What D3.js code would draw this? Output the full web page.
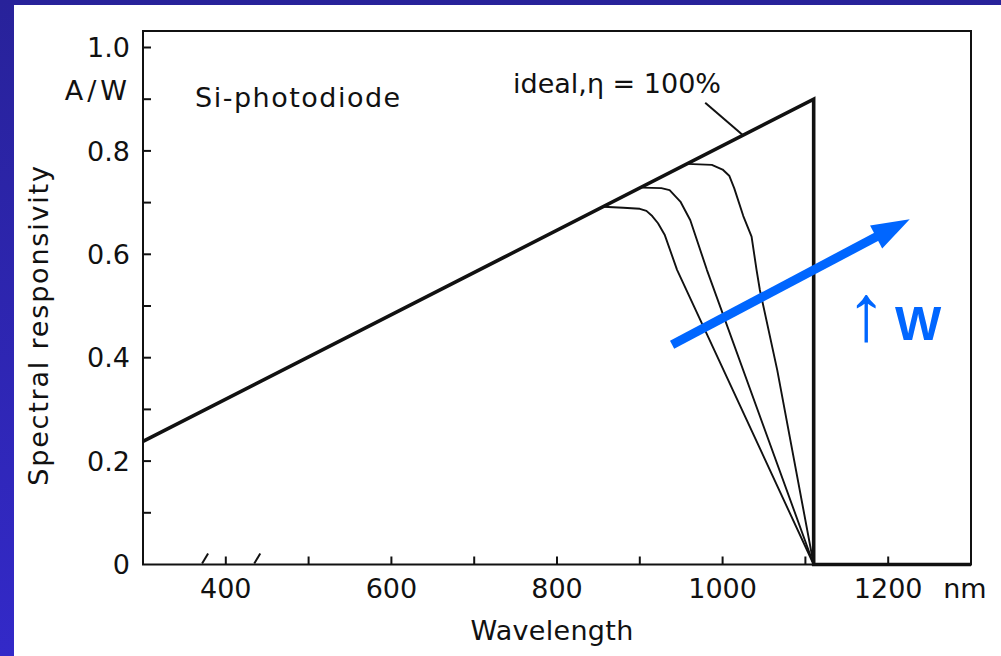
<!DOCTYPE html>
<html>
<head>
<meta charset="utf-8">
<script src="https://cdn.jsdelivr.net/npm/d3@7"></script>
<style>
  body { margin: 0; background: #fff; }
  svg { display: block; }
  text { font-family: "DejaVu Sans", sans-serif; fill: #111; }
</style>
</head>
<body>
<svg id="chart" width="1001" height="656"></svg>
<script>
// ---- data ----------------------------------------------------------
const xTickValues = [400, 500, 600, 700, 800, 900, 1000, 1100, 1200];
const xTickLabels = [400, 600, 800, 1000, 1200];
const yTickValues = [0.1, 0.2, 0.3, 0.4, 0.5, 0.6, 0.7, 0.8, 0.9, 1.0];
const yTickLabels = ["0", "0.2", "0.4", "0.6", "0.8", "1.0"];
const yTickLabelValues = [0, 0.2, 0.4, 0.6, 0.8, 1.0];

// ideal photodiode (quantum efficiency 100 %) with band-gap cut-off
const idealWavelength = [300, 1110, 1110, 1300];
const idealResponse   = [0.238, 0.900, 0, 0];

// real photodiodes, increasing width W
const curve1Wavelength = [856, 880, 900, 908, 915, 922, 930, 945, 1110];
const curve1Response   = [0.692, 0.690, 0.688, 0.684, 0.674, 0.660, 0.638, 0.570, 0];
const curve2Wavelength = [903, 926, 936, 949, 961, 981, 1110];
const curve2Response   = [0.729, 0.728, 0.724, 0.702, 0.666, 0.570, 0];
const curve3Wavelength = [957, 987, 1000, 1008, 1014, 1025, 1035, 1041, 1045, 1066, 1110];
const curve3Response   = [0.775, 0.773, 0.764, 0.752, 0.728, 0.674, 0.634, 0.570, 0.531, 0.376, 0];

// annotations
const leaderFrom = [979, 0.893];
const leaderTo   = [1025, 0.830];
const trendFrom  = [939, 0.425];
const trendTo    = [1226, 0.668];
const breakMarks = [375, 438];

// ---- layout --------------------------------------------------------
const svg = d3.select("#chart");
const W = 1001, H = 656;
const plot = { left: 143, right: 971, top: 31, bottom: 564.5 };
const ink = "#111";
const blue = "#0066ff";

const x = d3.scaleLinear().domain([300, 1300]).range([plot.left, plot.right]);
const y = d3.scaleLinear().domain([0, 1]).range([plot.bottom, 47.5]);

// slide frame
const defs = svg.append("defs");
const grad = defs.append("linearGradient").attr("id", "frameGrad")
  .attr("x1", 0).attr("y1", 0).attr("x2", 0).attr("y2", 1);
grad.append("stop").attr("offset", "0%").attr("stop-color", "#28229a");
grad.append("stop").attr("offset", "100%").attr("stop-color", "#3329c8");
svg.append("rect").attr("width", W).attr("height", H).attr("fill", "url(#frameGrad)");
svg.append("rect").attr("x", 14).attr("y", 5).attr("width", W - 14).attr("height", H - 5).attr("fill", "#fff");

// plot box
svg.append("rect")
  .attr("x", plot.left).attr("y", plot.top)
  .attr("width", plot.right - plot.left).attr("height", plot.bottom - plot.top)
  .attr("fill", "none").attr("stroke", ink).attr("stroke-width", 2);

// ticks (inward)
const gx = svg.append("g");
gx.selectAll("line").data(xTickValues).join("line")
  .attr("x1", d => x(d)).attr("x2", d => x(d))
  .attr("y1", plot.bottom).attr("y2", plot.bottom - 8)
  .attr("stroke", ink).attr("stroke-width", 2);
gx.selectAll("text").data(xTickLabels).join("text")
  .attr("x", d => x(d)).attr("y", plot.bottom + 33)
  .attr("text-anchor", "middle").attr("font-size", 27)
  .text(d => d);
svg.append("text").attr("x", x(1200) + 55).attr("y", plot.bottom + 33)
  .attr("font-size", 27).text("nm");

const gy = svg.append("g");
gy.selectAll("line").data(yTickValues).join("line")
  .attr("x1", plot.left).attr("x2", plot.left + 8)
  .attr("y1", d => y(d)).attr("y2", d => y(d))
  .attr("stroke", ink).attr("stroke-width", 2);
gy.selectAll("text").data(yTickLabelValues).join("text")
  .attr("x", 130).attr("y", d => y(d)).attr("dy", "0.36em")
  .attr("text-anchor", "end").attr("font-size", 27)
  .text((d, i) => yTickLabels[i]);
svg.append("text").attr("x", 131).attr("y", y(0.9) + 1)
  .attr("text-anchor", "end").attr("font-size", 27).attr("letter-spacing", 4)
  .text("A/W");

// small slashes on the wavelength axis
svg.append("g").selectAll("line").data(breakMarks).join("line")
  .attr("x1", d => x(d) - 3).attr("x2", d => x(d) + 3)
  .attr("y1", plot.bottom - 1).attr("y2", plot.bottom - 11)
  .attr("stroke", ink).attr("stroke-width", 2);

// axis titles
svg.append("text")
  .attr("transform", `translate(48,${(163 + 487) / 2}) rotate(-90)`)
  .attr("text-anchor", "middle").attr("font-size", 27).attr("letter-spacing", 1.8)
  .text("Spectral responsivity");
svg.append("text").attr("x", 552).attr("y", 640)
  .attr("text-anchor", "middle").attr("font-size", 27).attr("letter-spacing", 0.3)
  .text("Wavelength");

// ---- curves --------------------------------------------------------
const line = d3.line().x(d => x(d[0])).y(d => y(d[1]));

const realCurves = [
  d3.zip(curve1Wavelength, curve1Response),
  d3.zip(curve2Wavelength, curve2Response),
  d3.zip(curve3Wavelength, curve3Response)
];
svg.append("g").selectAll("path").data(realCurves).join("path")
  .attr("d", line).attr("fill", "none")
  .attr("stroke", ink).attr("stroke-width", 1.9).attr("stroke-linejoin", "round");

svg.append("path")
  .attr("d", line(d3.zip(idealWavelength, idealResponse)))
  .attr("fill", "none").attr("stroke", ink).attr("stroke-width", 3.6)
  .attr("stroke-linejoin", "miter");

// labels
svg.append("text").attr("x", 195).attr("y", 107)
  .attr("font-size", 27).attr("letter-spacing", 1.5).text("Si-photodiode");
svg.append("text").attr("x", 513).attr("y", 93)
  .attr("font-size", 27).text("ideal,η = 100%");
svg.append("line")
  .attr("x1", x(leaderFrom[0])).attr("y1", y(leaderFrom[1]))
  .attr("x2", x(leaderTo[0])).attr("y2", y(leaderTo[1]))
  .attr("stroke", ink).attr("stroke-width", 2);

// ---- trend arrow (increasing W) --------------------------------------
const ax0 = x(trendFrom[0]), ay0 = y(trendFrom[1]);
const ax1 = x(trendTo[0]),   ay1 = y(trendTo[1]);
const len = Math.hypot(ax1 - ax0, ay1 - ay0);
const ux = (ax1 - ax0) / len, uy = (ay1 - ay0) / len;
const headLen = 38, headHalf = 13;
const bx = ax1 - ux * headLen, by = ay1 - uy * headLen;
svg.append("line")
  .attr("x1", ax0).attr("y1", ay0).attr("x2", bx + ux * 4).attr("y2", by + uy * 4)
  .attr("stroke", blue).attr("stroke-width", 9);
svg.append("polygon")
  .attr("points", [
    [ax1, ay1],
    [bx - uy * headHalf, by + ux * headHalf],
    [bx + uy * headHalf, by - ux * headHalf]
  ].map(p => p.join(",")).join(" "))
  .attr("fill", blue);

svg.append("text").attr("x", 866).attr("y", 340)
  .attr("text-anchor", "middle").attr("font-size", 80)
  .style("font-family", "'Liberation Sans', Arial, sans-serif")
  .style("fill", blue).text("↑");
svg.append("text").attr("x", 895).attr("y", 340)
  .attr("font-size", 49).attr("font-weight", "bold")
  .style("font-family", "'Liberation Sans', Arial, sans-serif")
  .style("fill", blue).text("W");
</script>
</body>
</html>
